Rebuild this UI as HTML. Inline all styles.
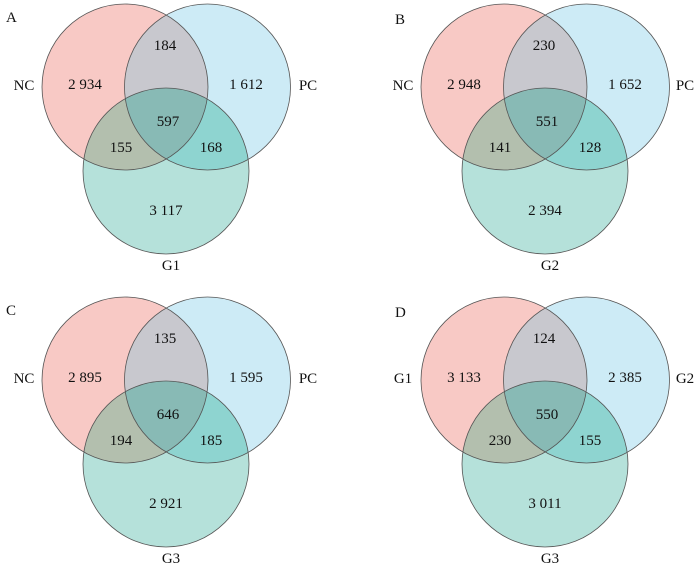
<!DOCTYPE html>
<html><head><meta charset="utf-8"><style>
html,body{margin:0;padding:0;background:#fff;}
svg text{font-family:"Liberation Serif",serif;font-size:15px;fill:#111;}
</style></head><body>
<svg id="chart" width="700" height="571" viewBox="0 0 700 571" xmlns="http://www.w3.org/2000/svg"></svg>
<script>
const panelLetters=["A","B","C","D"];
const setA=["NC","NC","NC","G1"];
const setB=["PC","PC","PC","G2"];
const setC=["G1","G2","G3","G3"];
const onlyA=["2 934","2 948","2 895","3 133"];
const onlyB=["1 612","1 652","1 595","2 385"];
const onlyC=["3 117","2 394","2 921","3 011"];
const abVals=["184","230","135","124"];
const acVals=["155","141","194","230"];
const bcVals=["168","128","185","155"];
const abcVals=["597","551","646","550"];

const NS="http://www.w3.org/2000/svg";
const svg=document.getElementById('chart');
const offX=[0,379,0,379], offY=[0,0,293,293];
const R=83;
function mk(tag,attrs,parent){const e=document.createElementNS(NS,tag);for(const k in attrs)e.setAttribute(k,attrs[k]);parent.appendChild(e);return e;}
const defs=mk('defs',{},svg);
for(let i=0;i<4;i++){
  const ox=offX[i],oy=offY[i];
  const A={x:125+ox,y:87+oy},B={x:207.5+ox,y:87+oy},C={x:166+ox,y:171+oy};
  const g=mk('g',{},svg);
  
  
  ['a','b','c'].forEach((k,j)=>{const c=[A,B,C][j];const cp=mk('clipPath',{id:'cp'+i+k},defs);mk('circle',{cx:c.x,cy:c.y,r:R},cp);});
  const cpab=mk('clipPath',{id:'cp'+i+'ab','clip-path':'url(#cp'+i+'a)'},defs);mk('circle',{cx:B.x,cy:B.y,r:R},cpab);
  const fills=[[A,'#f8c9c5','circle-'+setA[i]],[B,'#cdebf6','circle-'+setB[i]],[C,'#b5e1da','circle-'+setC[i]]];
  fills.forEach(f=>{const e=mk('circle',{cx:f[0].x,cy:f[0].y,r:R,fill:f[1]},g);});
  const g1=mk('g',{'clip-path':'url(#cp'+i+'a)'},g);mk('circle',{cx:B.x,cy:B.y,r:R,fill:'#c8c8ce'},g1);
  const g2=mk('g',{'clip-path':'url(#cp'+i+'a)'},g);mk('circle',{cx:C.x,cy:C.y,r:R,fill:'#b3bfae'},g2);
  const g3=mk('g',{'clip-path':'url(#cp'+i+'b)'},g);mk('circle',{cx:C.x,cy:C.y,r:R,fill:'#8ed4d0'},g3);
  const g4=mk('g',{'clip-path':'url(#cp'+i+'ab)'},g);mk('circle',{cx:C.x,cy:C.y,r:R,fill:'#88bab5'},g4);
  [A,B,C].forEach(c=>mk('circle',{cx:c.x,cy:c.y,r:R,fill:'none',stroke:'#555','stroke-width':0.8},g));
  function txt(s,x,y,name,anchor){const t=mk('text',{x:x,y:y,'text-anchor':anchor||'middle'},g);t.textContent=s;return t;}
  txt(panelLetters[i],ox+(i%2?16:6),oy+(i%2?24:22),'panel-label','start');
  txt(setA[i],ox+(i%2?24:24),oy+90,'set-label-a');
  txt(setB[i],ox+(i%2?306:308),oy+90,'set-label-b');
  txt(setC[i],ox+171,oy+270,'set-label-c');
  txt(onlyA[i],ox+85,oy+89,'count-a-only');
  txt(onlyB[i],ox+246,oy+89,'count-b-only');
  txt(onlyC[i],ox+166,oy+215,'count-c-only');
  txt(abVals[i],ox+165,oy+50,'count-ab');
  txt(acVals[i],ox+121,oy+152,'count-ac');
  txt(bcVals[i],ox+211,oy+152,'count-bc');
  txt(abcVals[i],ox+168,oy+126,'count-abc');
}
</script>
</body></html>
